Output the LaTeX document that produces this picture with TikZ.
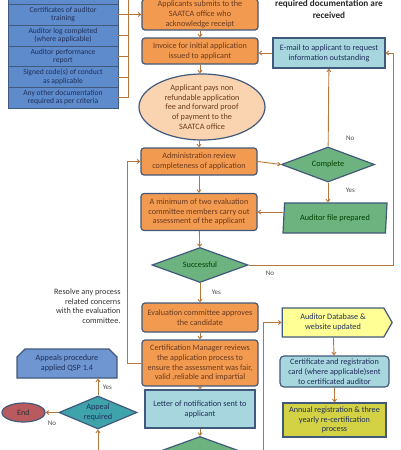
\documentclass[tikz,border=0pt]{standalone}
\usepackage{fontspec}
\setmainfont{Carlito}
\usetikzlibrary{shapes.geometric,shapes.symbols,shapes.misc,arrows.meta}

\definecolor{edge}{HTML}{41597A}
\definecolor{flow}{HTML}{B5763C}
\definecolor{orng}{HTML}{F29A50}
\definecolor{lorng}{HTML}{FAD3B0}
\definecolor{lblue}{HTML}{A7D6DE}
\definecolor{grn}{HTML}{6DB37F}
\definecolor{teal}{HTML}{3FA3AC}
\definecolor{listblue}{HTML}{5D8BCB}
\definecolor{apblue}{HTML}{7096D2}
\definecolor{yel}{HTML}{FFFF96}
\definecolor{olive}{HTML}{D2D244}
\definecolor{rose}{HTML}{B85A5E}
\definecolor{brn}{HTML}{6B3A1E}
\definecolor{navy}{HTML}{1F2F5A}

\begin{document}
\begin{tikzpicture}[x=1pt,y=-1pt,font=\fontsize{8.2}{9.8}\selectfont,
  base/.style={draw=edge,line width=1.2pt,align=center,inner sep=0.5pt},
  step box/.style={base,fill=orng,text=brn,rounded corners=3pt,minimum width=116,minimum height=#1},
  info box/.style={base,fill=lblue,text=navy,minimum width=#1},
  decide/.style={base,diamond,fill=grn,text=black!75!green,aspect=2.8,inner sep=0pt},
  listrow/.style={base,fill=listblue,text=navy,minimum width=110,minimum height=21,
    line width=0.9pt,font=\fontsize{7.6}{8.4}\selectfont},
  arr/.style={draw=flow,line width=0.9pt,-{Straight Barb[length=2.5pt,width=4pt]}},
  line/.style={draw=flow,line width=0.9pt},
  tag/.style={font=\fontsize{7}{8}\selectfont,text=black!70}]
\useasboundingbox (0,0) rectangle (400,450);

% list of documents
\node[listrow] (edu)    at (63,-6.5) {~\\education};
\node[listrow] (cert)   at (63,14.5) {Certificates of auditor\\training};
\node[listrow] (log)    at (63,35.5) {Auditor  log completed\\(where applicable)};
\node[listrow] (perf)   at (63,56.5) {Auditor  performance\\report};
\node[listrow] (signed) at (63,77)   {Signed code(s) of conduct\\as applicable};
\node[listrow] (other)  at (63,97.5) {Any other documentation\\required as per criteria};
\coordinate (br) at (128,-20);

% heading
\node[font=\bfseries\fontsize{9.2}{12}\selectfont,text=black!85,align=center] (head) at (329,9)
  {required documentation are\\received};

% main column
\node[step box=31] (appl) at (200,14.5) {Applicants submits to the\\SAATCA office who\\acknowledge receipt};
\node[step box=26] (inv) at (200,51) {Invoice for initial application\\issued to applicant};
\node[base,ellipse,fill=lorng,text=brn,minimum width=126,minimum height=66,inner sep=0pt] (pay) at (202,107)
  {Applicant pays  non\\refundable application\\fee and forward proof\\of payment to the\\SAATCA office};
\node[step box=27] (admin) at (199,161.5) {Administration review\\completeness of application};
\node[step box=37] (mintwo) at (199,212) {A minimum of two evaluation\\committee members carry out\\assessment of the  applicant};
\node[decide,minimum width=96,minimum height=35] (succ) at (200,265) {Successful};
\node[step box=29] (approve) at (200,317.5) {Evaluation committee approves\\the candidate};
\node[step box=46] (certmgr) at (200,363) {Certification Manager reviews\\the application process to\\ensure the assessment was fair,\\valid ,reliable and impartial};
\node[info box=110,minimum height=38] (letter) at (200,409) {Letter of notification sent to\\applicant};
\node[decide,minimum width=96,minimum height=35] (notify) at (200,454) {};

% right column
\node[info box=112,minimum height=30] (email) at (329,53) {E-mail to applicant to request\\information outstanding};
\node[decide,minimum width=93,minimum height=35] (complete) at (328,164.5) {Complete};
\node[base,trapezium,trapezium left angle=79,trapezium right angle=101,trapezium stretches body,
  fill=grn,text=black!75!green,minimum width=104,minimum height=30] (file) at (335,218) {Auditor  file prepared};
\node[base,signal,signal to=east,signal pointer angle=120,fill=yel,text=navy,
  minimum width=110,minimum height=29] (db) at (333,322.5) {Auditor  Database \&\\website updated};
\node[info box=109,minimum height=31,rounded corners=4pt] (card) at (334.5,371.5)
  {Certificate and registration\\card (where applicable)sent\\to certificated auditor};
\node[base,fill=olive,text=navy,minimum width=103,minimum height=34] (annual) at (334.5,420)
  {Annual registration \&  three\\yearly re-certification\\process};
\coordinate (rr) at (393,0);
\coordinate (bl) at (263,470);

% appeals
\node[base,chamfered rectangle,chamfered rectangle corners={north east,north west},
  chamfered rectangle xsep=4pt,chamfered rectangle ysep=4pt,fill=apblue,text=navy,
  minimum width=100,minimum height=29] (appeals) at (67,363.5) {Appeals procedure\\applied QSP 1.4};
\node[base,diamond,fill=teal,text=navy,aspect=2.3,inner sep=0pt,minimum width=78,minimum height=33] (appeal)
  at (98,412.5) {Appeal\\required};
\node[base,ellipse,fill=rose,text=black!80,minimum width=43,minimum height=19,inner sep=0pt] (endn) at (23.5,412.5) {End};
\node[align=right,anchor=north east,text=black!80] (resolve) at (124,285)
  {Resolve any process\\related concerns\\with the evaluation\\committee.};
\coordinate (ll) at (127,0);
\coordinate (ab) at (98,470);

% connectors
\draw[line] (br) -- (other.east -| br) -- (other.east);
\foreach \r in {log,perf,signed} \draw[line] (\r.east) -- (\r.east -| br);
\draw[arr] (cert.east) -- (cert.east -| appl.west);
\draw[arr] (appl) -- (inv);
\draw[arr] (inv) -- (inv.south |- pay.north);
\draw[arr] (pay.south -| admin.north) -- (admin);
\draw[arr] (admin) -- (mintwo);
\draw[arr] (mintwo) -- (succ);
\draw[arr] (succ) -- node[tag,right=8pt] {Yes} (approve);
\draw[arr] (approve) -- (certmgr);
\draw[arr] (certmgr) -- (letter);
\draw[arr] (letter) -- (notify);
\draw[arr] (admin.east) -- (complete.west);
\draw[arr] (complete) -- node[tag,right=14pt,pos=0.1] {No} (email);
\draw[arr] (complete.south) -- node[tag,right=14pt,pos=0.4] {Yes} (complete.south |- file.north);
\draw[arr] (mintwo.east -| file.west) -- (mintwo.east);
\draw[arr] (email.west) -- (email.west -| inv.east);
\draw[arr] (succ.east) -- (succ.east -| rr) -- (email.east -| rr) -- (email.east);
\node[tag] (nolbl) at (270,273) {No};
\draw[arr] (certmgr.west) -- (certmgr.west -| ll) -- (admin.west -| ll) -- (admin.west);
\draw[arr] (bl) -- (bl |- db.west) -- (db.west);
\draw[arr] (db) -- (card);
\draw[arr] (card) -- (annual);
\draw[arr] (ab) -- (appeal.south);
\draw[arr] (appeal.north) -- node[tag,right=1pt] {Yes} (appeal.north |- appeals.south);
\draw[arr] (appeal.west) -- node[tag,below=5pt] {No} (endn.east);
\end{tikzpicture}
\end{document}
